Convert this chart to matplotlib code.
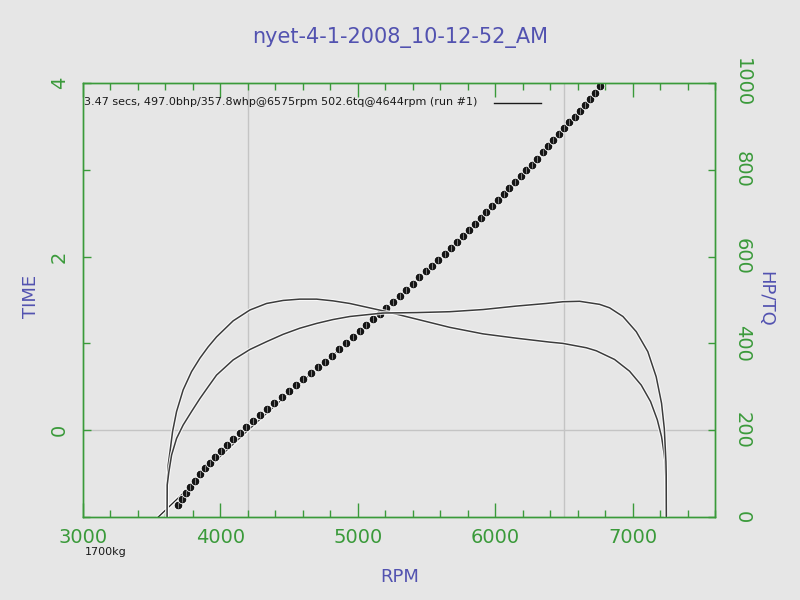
import matplotlib
matplotlib.use("Agg")
import matplotlib.pyplot as plt
import matplotlib.patheffects as pe
from matplotlib.ticker import MultipleLocator, FixedLocator

# ---------------- data ----------------
title = "nyet-4-1-2008_10-12-52_AM"
info_text = "3.47 secs, 497.0bhp/357.8whp@6575rpm 502.6tq@4644rpm (run #1)"
weight_text = "1700kg"

# time-vs-rpm samples (dots)
dot_rpm = [3693, 3721, 3750, 3781, 3814, 3849, 3885, 3923, 3963, 4005,
           4049, 4095, 4142, 4190, 4239, 4289, 4340, 4392, 4445, 4498,
           4551, 4604, 4657, 4709, 4761, 4812, 4863, 4914, 4964, 5014,
           5063, 5112, 5161, 5209, 5257, 5305, 5353, 5400, 5447, 5494,
           5540, 5586, 5632, 5677, 5721, 5765, 5808, 5851, 5894, 5936,
           5978, 6020, 6062, 6103, 6144, 6185, 6225, 6265, 6305, 6345,
           6385, 6424, 6463, 6502, 6540, 6578, 6616, 6654, 6691, 6728, 6765]
dot_time = [-0.86, -0.79, -0.72, -0.65, -0.58, -0.51, -0.44, -0.38, -0.31, -0.24,
            -0.17, -0.10, -0.03, 0.04, 0.11, 0.18, 0.24, 0.31, 0.38, 0.45,
            0.52, 0.59, 0.66, 0.73, 0.79, 0.86, 0.93, 1.00, 1.07, 1.14,
            1.21, 1.28, 1.34, 1.41, 1.48, 1.55, 1.62, 1.69, 1.76, 1.83,
            1.89, 1.96, 2.03, 2.10, 2.17, 2.24, 2.31, 2.38, 2.45, 2.51,
            2.58, 2.65, 2.72, 2.79, 2.86, 2.93, 3.00, 3.06, 3.13, 3.20,
            3.27, 3.34, 3.41, 3.48, 3.55, 3.61, 3.68, 3.75, 3.82, 3.89, 3.96]

# fitted time line
fit_rpm = [3548, 3700, 3850, 4000, 4202, 4500, 4935, 5335, 5664, 6111, 6505, 6790]
fit_time = [-1.0, -0.77, -0.54, -0.30, 0.0, 0.43, 1.02, 1.59, 2.07, 2.77, 3.47, 4.0]

# torque curve
tq_rpm = [3612, 3613, 3620, 3633, 3652, 3681, 3729, 3790, 3851, 3911, 3972, 4093,
          4215, 4336, 4457, 4578, 4700, 4820, 4942, 5184, 5427, 5669, 5911, 6154,
          6396, 6493, 6663, 6736, 6869, 6978, 7063, 7131, 7180, 7211, 7231, 7238,
          7244, 7246]
tq_val = [0, 74, 120, 150, 197, 243, 293, 335, 366, 392, 415, 452,
          477, 492, 499, 502, 502, 498, 492, 475, 456, 437, 422, 412,
          403, 400, 390, 383, 363, 336, 304, 266, 224, 185, 143, 120,
          74, 0]

# horsepower curve
hp_rpm = [3612, 3613, 3625, 3645, 3681, 3729, 3790, 3851, 3911, 3972, 4093, 4215,
          4336, 4457, 4578, 4700, 4820, 4942, 5184, 5427, 5669, 5911, 6154, 6372,
          6493, 6615, 6760, 6833, 6930, 7027, 7111, 7172, 7211, 7231, 7243, 7245,
          7246]
hp_val = [0, 74, 104, 143, 181, 212, 243, 273, 300, 327, 362, 386,
          404, 421, 435, 446, 455, 462, 470, 471, 473, 478, 486, 492,
          496, 497, 490, 482, 462, 427, 381, 323, 262, 204, 127, 97,
          0]

grid_rpm = [4200, 6500]

# legend sample line (rpm span, time level)
legend_rpm = [5990, 6330]
legend_time = [3.77, 3.77]

# ---------------- style ----------------
bg = "#e6e6e6"
green = "#3a9a3a"
blue = "#5252b0"
curve_col = "#3c3c3c"

fig = plt.figure(figsize=(8, 6), dpi=100, facecolor=bg)
ax = fig.add_axes([83/800, 1-517/600, 632/800, 434/600], facecolor=bg)
ax2 = ax.twinx()

ax.set_xlim(3000, 7600)
ax.set_ylim(-1, 4)
ax2.set_ylim(0, 1000)

# grid lines
for g in grid_rpm:
    ax.axvline(g, color="#c4c4c4", lw=1, zorder=0)
ax.axhline(0, color="#c4c4c4", lw=1, zorder=0)

halo = [pe.Stroke(linewidth=2.6, foreground="white", alpha=0.8), pe.Normal()]

ax.plot(fit_rpm, fit_time, color="#202020", lw=0.9, zorder=2, path_effects=halo)
ax.plot(dot_rpm, dot_time, linestyle="none", marker="o", ms=6.2,
        mfc="#151515", mec="white", mew=0.6, zorder=3)
ax.plot(dot_rpm, dot_time, linestyle="none", marker="|", ms=4,
        mec="#909090", mew=0.6, zorder=4)

ax2.plot(tq_rpm, tq_val, color=curve_col, lw=1.1, path_effects=halo)
ax2.plot(hp_rpm, hp_val, color=curve_col, lw=1.1, path_effects=halo)

# spines
for a in (ax, ax2):
    for s in a.spines.values():
        s.set_color(green)
        s.set_linewidth(1.0)

# x ticks
ax.xaxis.set_major_locator(FixedLocator([3000, 4000, 5000, 6000, 7000]))
ax.xaxis.set_minor_locator(MultipleLocator(200))
ax.tick_params(axis="x", which="major", direction="in", length=10, width=1,
               color=green, labelcolor=green, labelsize=14, top=True, pad=8)
ax.tick_params(axis="x", which="minor", direction="in", length=5, width=1,
               color=green, top=True)

# left y ticks
ax.yaxis.set_major_locator(FixedLocator([0, 2, 4]))
ax.yaxis.set_minor_locator(FixedLocator([-1, 1, 3]))
ax.tick_params(axis="y", which="major", direction="in", length=6, width=1,
               color=green, labelcolor=green, labelsize=14, pad=10,
               labelrotation=90)
ax.tick_params(axis="y", which="minor", direction="in", length=5, width=1,
               color=green)
for lab in ax.get_yticklabels():
    lab.set_va("center")

# right y ticks
ax2.yaxis.set_major_locator(FixedLocator([0, 200, 400, 600, 800, 1000]))
ax2.tick_params(axis="y", which="major", direction="in", length=5, width=1,
                color=green, labelcolor=green, labelsize=14, pad=13,
                labelrotation=-90)
for lab in ax2.get_yticklabels():
    lab.set_va("center")

# labels
fig.text(0.5, 1-37/600, title, ha="center", va="center", fontsize=15, color=blue)
fig.text(400/800, 1-577/600, "RPM", ha="center", va="center", fontsize=13, color=blue)
fig.text(31/800, 1-296/600, "TIME", ha="center", va="center", fontsize=13,
         color=blue, rotation=90)
fig.text(765/800, 1-299/600, "HP/TQ", ha="center", va="center", fontsize=13,
         color=blue, rotation=-90)

fig.text(84/800, 1-102/600, info_text, ha="left", va="center", fontsize=8,
         color="#1a1a1a")
fig.text(85/800, 1-552/600, weight_text, ha="left", va="center", fontsize=8,
         color="#1a1a1a")

# legend sample line
ax.plot(legend_rpm, legend_time, color="#1a1a1a", lw=1.0)

fig.savefig("out.png", dpi=100, facecolor=bg)
